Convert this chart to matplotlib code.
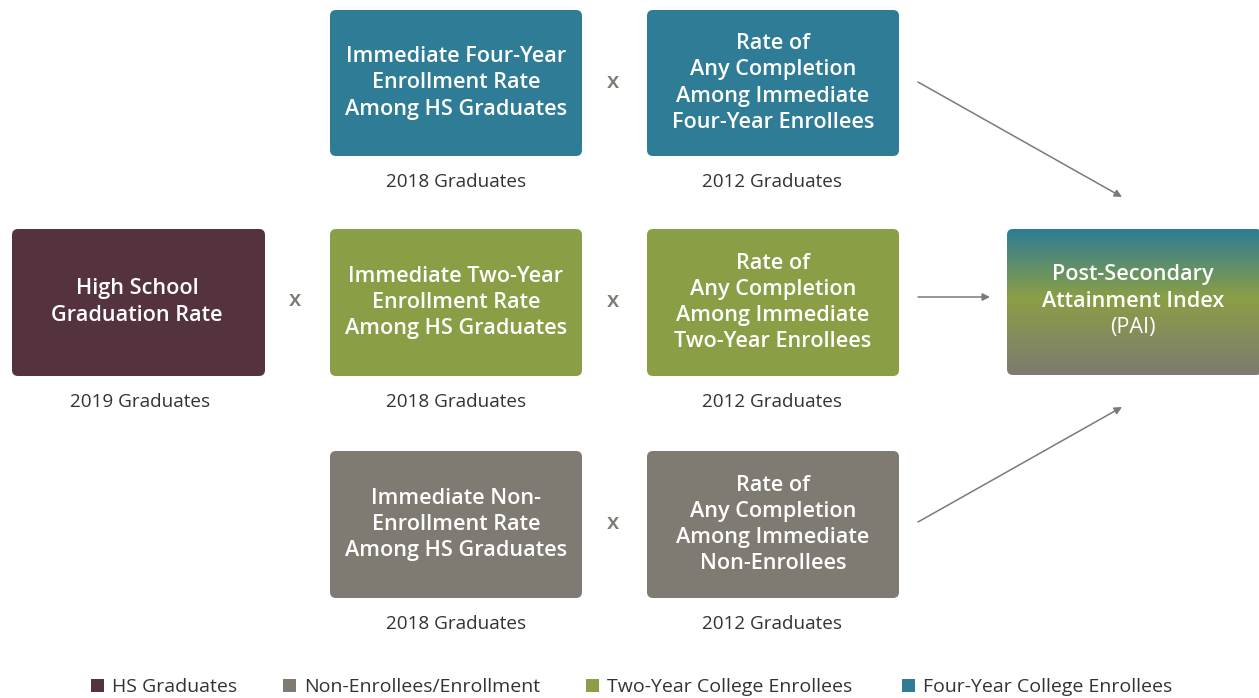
"""
Post-Secondary Attainment Index flow diagram.
"""

import numpy as np
import matplotlib
matplotlib.use('Agg')
import matplotlib.pyplot as plt
from matplotlib.patches import FancyBboxPatch, Rectangle
from matplotlib.colors import LinearSegmentedColormap

# ─────────────────────────────────────────────────────────────────────
# Config
# ─────────────────────────────────────────────────────────────────────

W, H = 1259, 698

MAROON = '#54333f'
TEAL   = '#2e7c95'
GREEN  = '#8a9f45'
GRAY   = '#7f7a72'
TEXT   = '#333333'

FONT = 'Open Sans'
BOX_FS = 15.6

# box labels, by row (top / middle / bottom)
ENROLL_LABELS = [
    'Immediate Four-Year\nEnrollment Rate\nAmong HS Graduates',
    'Immediate Two-Year\nEnrollment Rate\nAmong HS Graduates',
    'Immediate Non-\nEnrollment Rate\nAmong HS Graduates',
]
COMPLETE_LABELS = [
    'Rate of\nAny Completion\nAmong Immediate\nFour-Year Enrollees',
    'Rate of\nAny Completion\nAmong Immediate\nTwo-Year Enrollees',
    'Rate of\nAny Completion\nAmong Immediate\nNon-Enrollees',
]
ROW_COLORS = [TEAL, GREEN, GRAY]

HS_LABEL  = 'High School\nGraduation Rate'
HS_COHORT = '2019 Graduates'
ENROLL_COHORT   = '2018 Graduates'
COMPLETE_COHORT = '2012 Graduates'
PAI_LABEL = 'Post-Secondary\nAttainment Index'
PAI_SUB   = '(PAI)'

LEGEND_LABELS = ['HS Graduates', 'Non-Enrollees/Enrollment',
                 'Two-Year College Enrollees', 'Four-Year College Enrollees']
LEGEND_COLORS = [MAROON, GRAY, GREEN, TEAL]

# ─────────────────────────────────────────────────────────────────────
# Helpers
# ─────────────────────────────────────────────────────────────────────


def box(ax, x0, y0, x1, y1, color):
    p = FancyBboxPatch((x0, y0), x1 - x0, y1 - y0,
                       boxstyle='round,pad=0,rounding_size=6',
                       fc=color, ec='none')
    ax.add_patch(p)
    return p


def box_text(ax, x, y, s, weight='semibold', zorder=3):
    ax.text(x, y, s, ha='center', va='center', color='white',
            fontsize=BOX_FS, family=FONT, fontweight=weight,
            linespacing=1.32, zorder=zorder)


def caption(ax, x, y, s):
    ax.text(x, y, s, ha='center', va='center', color=TEXT,
            fontsize=13.6, family=FONT)


def times(ax, x, y):
    ax.text(x, y, 'x', ha='center', va='center', color=GRAY,
            fontsize=16, family=FONT, fontweight='semibold')


def arrow(ax, x0, y0, x1, y1):
    ax.annotate('', xy=(x1, y1), xytext=(x0, y0),
                arrowprops=dict(arrowstyle='-|>', color='#7a7a7a',
                                lw=1.1, mutation_scale=11,
                                shrinkA=0, shrinkB=0))


# ─────────────────────────────────────────────────────────────────────
# Main
# ─────────────────────────────────────────────────────────────────────

fig = plt.figure(figsize=(W / 100, H / 100), dpi=100)
ax = fig.add_axes([0, 0, 1, 1])

row_y = [(10, 156), (229, 376), (451, 598)]
cap_y = [182, 402, 624]
col1 = (330, 582)
col2 = (647, 899)

# HS graduation box
box(ax, 12, 229, 265, 376, MAROON)
box_text(ax, 137, 302, HS_LABEL)
caption(ax, 140, 402, HS_COHORT)
times(ax, 295, 301)

for i, (y0, y1) in enumerate(row_y):
    yc = (y0 + y1) / 2
    box(ax, col1[0], y0, col1[1], y1, ROW_COLORS[i])
    box_text(ax, sum(col1) / 2, yc, ENROLL_LABELS[i])
    box(ax, col2[0], y0, col2[1], y1, ROW_COLORS[i])
    box_text(ax, sum(col2) / 2, yc, COMPLETE_LABELS[i])
    caption(ax, 456, cap_y[i], ENROLL_COHORT)
    caption(ax, 772, cap_y[i], COMPLETE_COHORT)
    times(ax, 613, yc - 1)

# PAI box with vertical gradient
pai = box(ax, 1007, 229, 1262, 375, 'none')
cmap = LinearSegmentedColormap.from_list(
    'pai', [(0, TEAL), (0.47, GREEN), (1, GRAY)])
grad = np.linspace(0, 1, 256).reshape(-1, 1)
im = ax.imshow(grad, cmap=cmap, aspect='auto',
               extent=(1007, 1262, 375, 229), zorder=1)
im.set_clip_path(pai)
box_text(ax, 1133, 288, PAI_LABEL)
ax.text(1133, 328, PAI_SUB, ha='center', va='center', color='white',
        fontsize=BOX_FS, family=FONT, zorder=3)

# arrows into PAI
arrow(ax, 918, 82, 1122, 197)
arrow(ax, 918, 297, 990, 297)
arrow(ax, 918, 522, 1122, 407)

# legend
leg_x = [91, 283, 586, 902]
for x, lab, c in zip(leg_x, LEGEND_LABELS, LEGEND_COLORS):
    ax.add_patch(Rectangle((x, 679), 13, 13, fc=c, ec='none'))
    ax.text(x + 21, 687, lab, ha='left', va='center', color=TEXT,
            fontsize=14, family=FONT)

ax.set_xlim(0, W)
ax.set_ylim(H, 0)
ax.axis('off')

fig.savefig('out.png', dpi=100)
